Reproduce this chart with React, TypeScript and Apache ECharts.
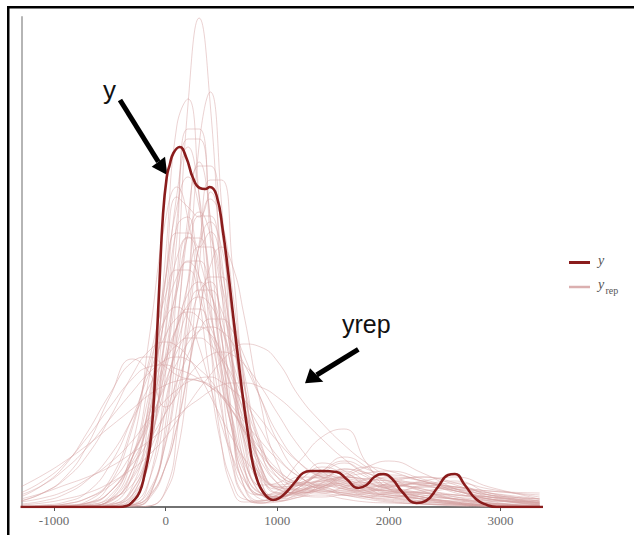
import React, { useEffect, useRef } from "react";
import * as echarts from "echarts";

// x grid shared by the replicated densities (yrep)
const X_GRID = [-1300, -1100, -900, -700, -500, -300, -150, 0, 100, 200, 300, 400, 500, 600, 700, 850, 1000, 1200, 1400, 1600, 1800, 2000, 2300, 2600, 2900, 3350];

// replicated density curves (heights, arbitrary density units)
const YREP: number[][] = [
  [0,0,0,0,0,1,9,84,224,402,489,402,224,84,21,4,5,10,12,8,5,4,3,2,1,0],
  [0,0,0,1,3,12,71,252,381,408,310,167,63,17,5,6,12,18,14,12,14,18,14,8,4,1],
  [0,0,0,0,0,0,1,17,73,204,362,415,304,142,43,8,6,14,22,18,10,6,3,2,1,0],
  [0,0,0,0,0,9,51,174,286,368,368,286,174,82,30,12,14,24,30,22,16,20,24,16,8,2],
  [0,0,0,0,0,4,26,99,182,277,341,341,277,182,99,26,10,16,28,36,26,18,14,12,10,6],
  [0,0,0,0,3,31,105,227,300,330,300,227,142,73,31,12,10,20,34,28,16,12,8,4,2,0],
  [0,0,0,0,0,1,8,42,98,178,263,308,288,215,129,38,14,16,22,30,28,26,22,16,10,5],
  [0,0,0,0,2,17,59,144,214,272,295,272,214,144,82,30,18,22,34,44,34,28,30,22,10,2],
  [0,0,0,1,7,49,128,230,274,274,230,163,96,49,20,12,16,30,28,18,16,24,30,24,12,3],
  [0,0,0,0,1,12,42,107,167,224,260,260,224,167,107,42,20,22,36,50,40,22,10,5,2,0],
  [0,0,0,1,7,37,90,168,216,246,246,216,168,114,69,32,22,28,40,34,26,24,22,20,16,12],
  [0,0,0,0,0,2,10,41,81,136,193,230,230,193,136,58,24,14,20,32,40,36,26,20,14,6],
  [0,0,1,4,15,49,92,145,179,202,210,202,179,145,109,62,34,24,28,38,30,18,10,5,2,0],
  [1,2,5,15,42,89,133,172,189,195,189,172,147,118,89,52,30,22,26,30,24,18,14,10,7,5],
  [0,1,3,9,24,54,85,122,144,164,176,180,176,164,144,109,74,44,30,26,24,22,20,18,12,8],
  [3,6,13,27,51,88,120,149,162,169,169,162,149,131,109,78,51,30,22,24,20,14,8,4,2,1],
  [12,22,38,60,88,115,134,147,150,147,138,127,111,95,77,53,36,24,20,22,20,16,10,5,2,1],
  [5,9,16,28,44,66,88,107,117,125,129,130,125,117,107,88,66,44,30,22,18,16,12,8,4,1],
  [2,4,8,14,24,38,52,70,86,102,118,132,146,156,163,160,146,110,84,62,44,30,16,7,3,1],
  [6,14,30,62,110,148,135,100,115,170,215,225,190,130,75,35,18,14,16,12,8,5,3,1,0,0],
  [0,0,0,0,1,11,66,208,312,360,312,208,104,40,11,4,8,16,20,14,18,22,18,10,4,1],
  [0,0,0,0,0,0,1,15,51,129,240,327,327,240,129,30,6,10,18,26,20,14,16,20,12,4],
  [0,0,0,1,8,61,167,288,320,288,211,127,61,24,8,6,12,22,18,12,10,14,10,4,1,0],
  [0,0,0,0,0,2,13,65,138,226,291,291,226,138,65,13,8,20,32,26,16,14,22,26,14,4],
  [0,0,0,0,1,16,61,153,222,269,269,222,153,86,40,14,12,26,44,36,20,10,6,3,1,0],
  [0,0,0,0,0,2,11,41,79,134,193,241,260,241,193,104,44,16,14,20,28,32,26,14,8,3],
  [0,0,1,4,23,78,146,212,237,237,212,170,122,78,45,18,10,18,26,20,14,12,8,4,2,0],
  [0,0,0,1,6,30,73,136,180,213,225,213,180,136,93,42,20,24,36,46,38,30,22,16,10,4],
  [0,0,1,3,15,50,96,150,180,198,198,180,150,114,79,40,20,18,24,30,34,36,28,18,8,2],
  [0,0,1,2,8,22,55,95,125,152,176,188,188,176,152,109,66,32,18,16,20,22,16,8,3,1],
  [6,14,28,52,89,132,156,165,161,150,132,111,89,68,49,30,18,14,16,14,10,8,5,3,1,0],
  [10,22,42,75,113,145,150,140,132,128,126,122,112,96,76,46,24,12,10,12,10,7,4,2,1,0],
  [8,14,22,30,40,54,66,80,90,100,108,116,122,124,124,120,110,90,68,48,32,20,12,8,6,6],
  [0,0,0,0,1,8,50,180,280,290,260,275,240,150,70,20,10,16,24,20,14,10,6,3,1,0],
  [0,0,0,0,0,2,25,134,268,378,378,268,134,47,12,4,8,14,18,24,20,16,20,24,18,10],
  [0,0,0,0,0,1,10,73,172,290,345,290,172,73,22,6,10,22,30,20,12,10,14,18,14,8],
  [0,0,0,0,2,20,90,230,310,300,290,315,250,140,55,14,8,12,20,28,24,20,24,16,8,3],
  [0,0,0,0,0,3,16,63,123,196,260,285,260,196,123,41,14,12,24,38,34,26,18,12,8,4],
  [0,0,0,2,11,49,112,191,230,245,230,191,138,88,49,22,24,46,70,78,44,18,8,3,1,0],
  [0,0,0,1,6,28,65,122,162,197,217,217,197,162,122,65,30,16,20,30,40,46,34,18,6,1],
  [0,1,2,4,15,45,82,126,155,173,180,173,155,126,97,58,34,24,26,30,28,26,24,20,16,14],
  [0,0,0,1,5,37,101,196,249,270,249,196,130,75,37,14,10,16,22,18,24,30,26,18,12,8],
  [0,0,1,6,27,82,141,189,200,189,160,121,82,50,27,12,10,20,32,28,22,20,26,30,20,8],
  [0,1,3,9,21,43,66,94,112,130,143,152,155,152,143,121,94,60,36,24,18,16,14,12,10,6],
  [20,32,46,62,80,98,112,122,126,128,126,120,112,100,86,66,48,30,20,16,14,12,10,8,6,4],
  [14,26,44,70,100,128,140,142,138,134,128,120,110,96,80,58,38,22,16,14,12,10,8,6,4,2],
];

// observed density y: [x, density]
const Y_OBS: [number, number][] = [
  [-1300, 0], [-420, 0], [-352, 1], [-290, 6], [-233, 15], [-190, 32], [-143, 59], [-110, 100],
  [-83, 159], [-55, 225], [-24, 292], [10, 330], [36, 342], [70, 354], [126, 360], [186, 349],
  [245, 329], [305, 319], [355, 318], [395, 320], [455, 312], [514, 275], [560, 235], [604, 192],
  [650, 148], [693, 109], [740, 72], [783, 42], [830, 24], [873, 15], [920, 9], [962, 7],
  [1020, 9], [1083, 15], [1160, 25], [1231, 34], [1300, 36], [1400, 36], [1531, 35], [1620, 28],
  [1725, 19], [1800, 22], [1870, 30], [1949, 33], [2030, 28], [2120, 15], [2248, 4], [2330, 6],
  [2440, 20], [2530, 32], [2592, 33], [2680, 22], [2780, 8], [2880, 2], [2966, 0], [3400, 0],
];

const X_TICKS = [-1000, 0, 1000, 2000, 3000];
const X_MIN = -1287;
const X_MAX = 3363;
const Y_MAX = 490;

const DARK = "#8a1c1c";
const LIGHT = "#d5a0a0";

export default function App() {
  const ref = useRef<HTMLDivElement>(null);
  useEffect(() => {
    const chart = echarts.init(ref.current as HTMLDivElement, null, { renderer: "svg" });
    const series: any[] = YREP.map((h) => ({
      type: "line",
      name: "yrep",
      data: X_GRID.map((x, j) => [x, h[j]]),
      smooth: 0.5,
      symbol: "none",
      silent: true,
      lineStyle: { color: LIGHT, width: 0.8, opacity: 0.6 },
      z: 2,
    }));
    series.push({
      type: "line",
      name: "y",
      data: Y_OBS,
      smooth: 0.5,
      symbol: "none",
      silent: true,
      lineStyle: { color: DARK, width: 2.6 },
      z: 3,
    });
    const sans = '"Liberation Sans", Arial, sans-serif';
    const serif = '"Liberation Serif", "Times New Roman", serif';
    chart.setOption({
      animation: false,
      grid: { left: 22, right: 93, top: 17, bottom: 28 },
      xAxis: {
        type: "value",
        min: X_MIN,
        max: X_MAX,
        splitLine: { show: false },
        axisLine: { show: true, onZero: false, lineStyle: { color: "#444", width: 1.6 } },
        axisTick: { show: true, length: 4, customValues: X_TICKS, lineStyle: { color: "#555" } },
        axisLabel: {
          customValues: X_TICKS,
          formatter: (v: number) => String(v),
          fontFamily: serif,
          fontSize: 13,
          color: "#6b6b6b",
          margin: 7,
        },
      },
      yAxis: {
        type: "value",
        min: 0,
        max: Y_MAX,
        axisLine: { show: true, onZero: false, lineStyle: { color: "#b5b5b5", width: 2 } },
        axisTick: { show: false },
        axisLabel: { show: false },
        splitLine: { show: false },
      },
      graphic: [
        { type: "rect", shape: { x: 7, y: 6, width: 627, height: 2.5 }, style: { fill: "#000" } },
        { type: "rect", shape: { x: 7, y: 6, width: 2.5, height: 529 }, style: { fill: "#000" } },
        // arrow to y
        { type: "line", shape: { x1: 120, y1: 100, x2: 158.3, y2: 161.7 }, style: { stroke: "#000", lineWidth: 5 } },
        { type: "polygon", shape: { points: [[167.3, 175], [151.7, 166.7], [165, 156.7]] }, style: { fill: "#000" } },
        { type: "text", x: 103, y: 90, style: { text: "y", font: `26px ${sans}`, fill: "#111", verticalAlign: "middle" } },
        // arrow to yrep
        { type: "line", shape: { x1: 358.3, y1: 349.3, x2: 316.7, y2: 375 }, style: { stroke: "#000", lineWidth: 5 } },
        { type: "polygon", shape: { points: [[305, 383.3], [310, 368.3], [323.3, 381.7]] }, style: { fill: "#000" } },
        { type: "text", x: 342, y: 324, style: { text: "yrep", font: `25px ${sans}`, fill: "#111", verticalAlign: "middle" } },
        // legend
        { type: "line", shape: { x1: 569, y1: 262.5, x2: 590, y2: 262.5 }, style: { stroke: DARK, lineWidth: 3 } },
        { type: "line", shape: { x1: 569, y1: 287, x2: 590, y2: 287 }, style: { stroke: "#dbb0b0", lineWidth: 2.5 } },
        { type: "text", x: 598, y: 260, style: { text: "y", font: `italic 14px ${serif}`, fill: "#555", verticalAlign: "middle" } },
        { type: "text", x: 598, y: 284.5, style: { text: "y", font: `italic 14px ${serif}`, fill: "#555", verticalAlign: "middle" } },
        { type: "text", x: 605.5, y: 290, style: { text: "rep", font: `10px ${serif}`, fill: "#555", verticalAlign: "middle" } },
      ],
      series,
    });
    return () => chart.dispose();
  }, []);
  return (
    <div
      ref={ref}
      style={{ position: "fixed", left: 0, top: 0, width: 634, height: 535, background: "#fff" }}
    />
  );
}
